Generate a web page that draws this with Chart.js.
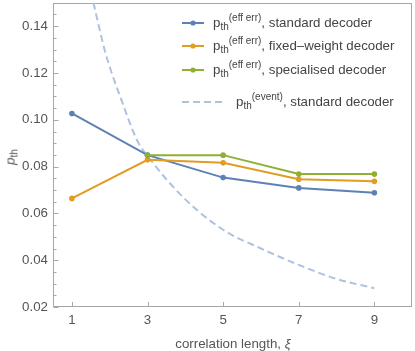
<!DOCTYPE html>
<html>
<head>
<meta charset="utf-8">
<script src="https://cdn.jsdelivr.net/npm/chart.js@4.4.1/dist/chart.umd.min.js"></script>
<style>
  html, body { margin: 0; padding: 0; background: #fff; }
  #wrap { position: relative; width: 415px; height: 351px; font-family: "Liberation Sans", Arial, sans-serif; }
  #chart { position: absolute; left: 0; top: 0; }
  .row { position: absolute; left: 182px; height: 16px; display: flex; align-items: center; white-space: nowrap; font-size: 13.3px; color: #444; line-height: 16px; }
  .row svg { flex: none; }
  .row sub, .row sup { font-size: 10px; line-height: 0; }
  .row sub { vertical-align: -3px; }
  .row sup { vertical-align: 6px; }
  #ytitle { position: absolute; left: 10px; top: 157px; transform: translate(-50%, -50%) rotate(-90deg); font-size: 13.3px; color: #555; white-space: nowrap; }
  #ytitle sub { font-size: 10px; vertical-align: -3px; line-height: 0; }
  #xtitle { position: absolute; left: 233px; top: 343px; transform: translate(-50%, -50%); font-size: 13.3px; color: #555; white-space: nowrap; }
</style>
</head>
<body>
<div id="wrap">
  <canvas id="chart" width="415" height="351"></canvas>
  <div id="legend"></div>
  <div id="ytitle"><i>p</i><sub>th</sub></div>
  <div id="xtitle">correlation length, <i>ξ</i></div>
</div>
<script>
// valores
const xi = [1, 3, 5, 7, 9];
const standard = [0.1027, 0.0849, 0.0753, 0.0709, 0.0688];
const fixedWeight = [0.0664, 0.0829, 0.0816, 0.0746, 0.0737];
const specialisedXi = [3, 5, 7, 9];
const specialised = [0.0849, 0.0849, 0.0768, 0.0768];
const eventXi = [1.57, 1.88, 2.32, 2.73, 3, 4, 5, 6, 7, 8, 9];
const eventStandard = [0.150, 0.129, 0.108, 0.091, 0.0845, 0.066, 0.053, 0.045, 0.038, 0.032, 0.028];

const xTicks = [1, 3, 5, 7, 9];
const yTicks = [0.02, 0.04, 0.06, 0.08, 0.10, 0.12, 0.14];

const seriesNames = ["standard decoder", "fixed\u2013weight decoder", "specialised decoder", "standard decoder"];
const seriesSup = ["(eff err)", "(eff err)", "(eff err)", "(event)"];
const colors = ["#5e81b5", "#e19c24", "#8fb032", "#aec2e0"];

const toPts = (xs, ys) => xs.map((x, i) => ({ x: x, y: ys[i] }));

// moldura e marcas para dentro, estilo Mathematica
const framePlugin = {
  id: "frame",
  beforeDatasetsDraw(chart) {
    const { ctx, chartArea: a, scales: { x, y } } = chart;
    const L = Math.round(a.left) + 0.5, R = Math.round(a.right) - 0.5;
    const T = Math.round(a.top) + 0.5, B = Math.round(a.bottom) - 0.5;
    ctx.save();
    ctx.strokeStyle = "#a6a6a6";
    ctx.lineWidth = 1;
    ctx.strokeRect(L, T, R - L, B - T);
    ctx.beginPath();
    for (let v = 0.02; v <= 0.1501; v += 0.005) {
      const py = Math.round(y.getPixelForValue(v)) + 0.5;
      const major = yTicks.some(t => Math.abs(t - v) < 1e-6);
      ctx.moveTo(L, py);
      ctx.lineTo(L + (major ? 5 : 3), py);
    }
    xTicks.forEach(t => {
      const px = Math.round(x.getPixelForValue(t)) + 0.5;
      ctx.moveTo(px, B);
      ctx.lineTo(px, B - 4.5);
    });
    ctx.stroke();
    ctx.restore();
  }
};

const lineDs = (label, data, color, order) => ({
  label: label, data: data, borderColor: color, backgroundColor: color,
  borderWidth: 2, pointRadius: 2.8, pointHoverRadius: 2.8, pointBorderWidth: 0,
  tension: 0, order: order
});

new Chart(document.getElementById("chart"), {
  type: "line",
  data: {
    datasets: [
      lineDs(seriesNames[0], toPts(xi, standard), colors[0], 2),
      lineDs(seriesNames[1], toPts(xi, fixedWeight), colors[1], 1),
      lineDs(seriesNames[2], toPts(specialisedXi, specialised), colors[2], 0),
      {
        label: seriesNames[3], data: toPts(eventXi, eventStandard),
        borderColor: colors[3], borderWidth: 2, borderDash: [7, 4],
        pointRadius: 0, cubicInterpolationMode: "monotone", order: 3
      }
    ]
  },
  options: {
    responsive: false,
    animation: false,
    layout: { padding: { top: 0, right: 2, left: 0, bottom: 0 } },
    plugins: { legend: { display: false }, tooltip: { enabled: false } },
    scales: {
      x: {
        type: "linear", min: 0.5, max: 10,
        grid: { display: false, drawTicks: false }, border: { display: false },
        afterBuildTicks: s => { s.ticks = xTicks.map(v => ({ value: v })); },
        afterFit: s => { s.height = 44; s.paddingLeft = 0; s.paddingRight = 0; },
        ticks: { padding: 5, color: "#555", font: { family: "Liberation Sans", size: 13.3 }, maxRotation: 0 }
      },
      y: {
        type: "linear", min: 0.02, max: 0.15,
        grid: { display: false, drawTicks: false }, border: { display: false },
        afterBuildTicks: s => { s.ticks = yTicks.map(v => ({ value: v })); },
        afterFit: s => { s.width = 53; s.paddingTop = 0; s.paddingBottom = 0; },
        ticks: { padding: 5, color: "#555", font: { family: "Liberation Sans", size: 13.3 }, callback: v => v.toFixed(2) }
      }
    }
  },
  plugins: [framePlugin]
});

// legenda em HTML (subscritos e sobrescritos)
const legendY = [23, 46, 70, 102];
const legend = document.getElementById("legend");
seriesNames.forEach((name, i) => {
  const row = document.createElement("div");
  row.className = "row";
  row.style.top = (legendY[i] - 8) + "px";
  let svg;
  if (i < 3) {
    svg = '<svg width="22" height="8" style="margin-right:9px"><line x1="0" y1="4" x2="22" y2="4" stroke="' + colors[i] + '" stroke-width="2"/><circle cx="11" cy="4" r="2.6" fill="' + colors[i] + '"/></svg>';
  } else {
    svg = '<svg width="43" height="8" style="margin-right:11px"><line x1="0" y1="4" x2="43" y2="4" stroke="' + colors[i] + '" stroke-width="2" stroke-dasharray="7 4"/></svg>';
  }
  row.innerHTML = svg + '<span>p<sub>th</sub><sup>' + seriesSup[i] + '</sup>, ' + name + '</span>';
  legend.appendChild(row);
});
</script>
</body>
</html>
